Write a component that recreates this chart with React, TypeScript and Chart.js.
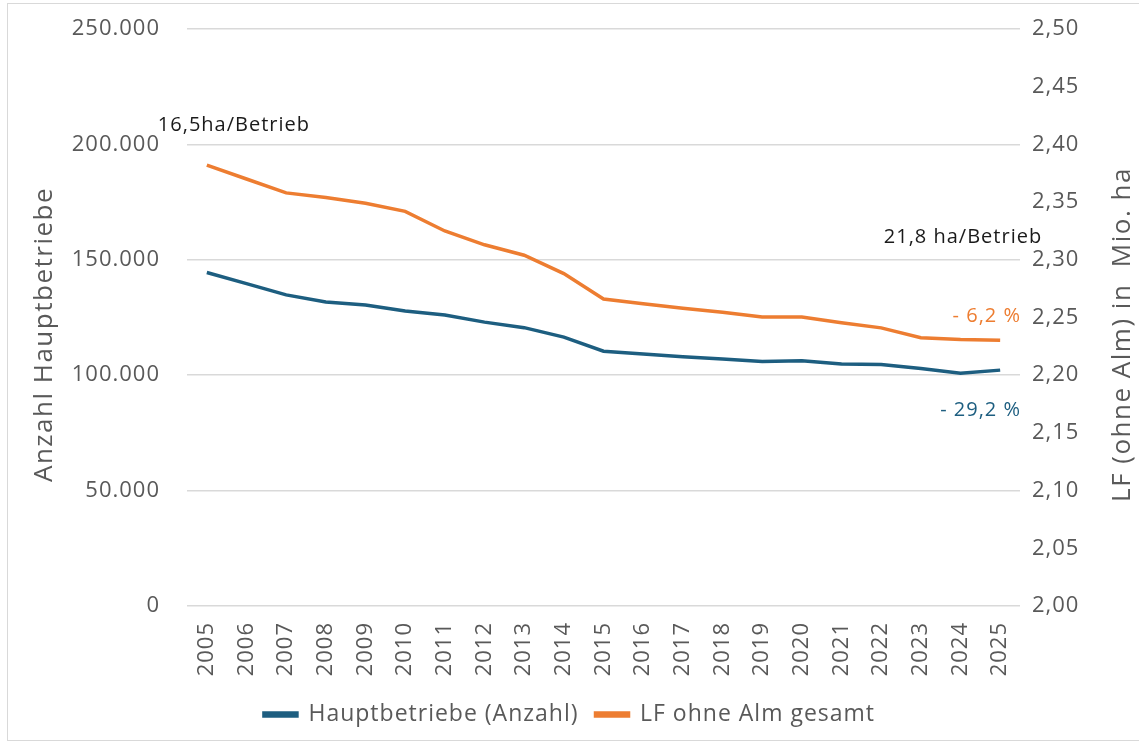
import React, { useEffect, useRef } from "react";
import { Chart, registerables } from "chart.js";

Chart.register(...registerables);

const years = [
  "2005", "2006", "2007", "2008", "2009", "2010", "2011", "2012", "2013", "2014",
  "2015", "2016", "2017", "2018", "2019", "2020", "2021", "2022", "2023", "2024", "2025",
];

const hauptbetriebe = [
  144500, 139700, 134800, 131700, 130400, 127800, 126100, 123000, 120600, 116500,
  110400, 109200, 108000, 107000, 105900, 106300, 104900, 104600, 102900, 100900, 102200,
];

const lfOhneAlm = [
  2.382, 2.37, 2.358, 2.354, 2.349, 2.342, 2.325, 2.313, 2.304, 2.288,
  2.266, 2.262, 2.258, 2.2545, 2.2505, 2.2505, 2.2455, 2.241, 2.2325, 2.231, 2.2303,
];

const seriesNames = ["Hauptbetriebe (Anzahl)", "LF ohne Alm gesamt"];
const leftTitle = "Anzahl Hauptbetriebe";
const rightTitle = "LF (ohne Alm) in  Mio. ha";
const noteStart = "16,5ha/Betrieb";
const noteEnd = "21,8 ha/Betrieb";
const noteLf = "- 6,2 %";
const noteHb = "- 29,2 %";

const BLUE = "#1d5e80";
const ORANGE = "#ed7d31";
const GREY = "#595959";
const GRID = "#d9d9d9";
const FONT = "'Open Sans', sans-serif";

const spacingPlugin = {
  id: "letterSpacing",
  beforeInit(chart: any) {
    chart.ctx.letterSpacing = "1px";
  },
  beforeUpdate(chart: any) {
    chart.ctx.letterSpacing = "1px";
  },
  beforeDraw(chart: any) {
    chart.ctx.letterSpacing = "1px";
  },
};

const textPlugin = {
  id: "chartTexts",
  afterDraw(chart: any) {
    const ctx = chart.ctx;
    const a = chart.chartArea;
    const xs = chart.scales.x;
    const ys = chart.scales.y;
    const y1 = chart.scales.y1;
    const last = years.length - 1;
    ctx.save();
    ctx.textBaseline = "middle";
    ctx.font = `26px ${FONT}`;
    ctx.letterSpacing = "1.5px";
    // axis titles
    ctx.fillStyle = GREY;
    const midY = (a.top + a.bottom) / 2 + 17;
    ctx.save();
    ctx.translate(45, midY);
    ctx.rotate(-Math.PI / 2);
    ctx.textAlign = "center";
    ctx.fillText(leftTitle, 0, 0);
    ctx.restore();
    ctx.save();
    ctx.translate(1123, midY);
    ctx.rotate(-Math.PI / 2);
    ctx.textAlign = "center";
    ctx.fillText(rightTitle, 0, 0);
    ctx.restore();
    // notes
    ctx.font = `20px ${FONT}`;
    ctx.letterSpacing = "1px";
    ctx.fillStyle = "#1a1a1a";
    ctx.textAlign = "left";
    ctx.fillText(noteStart, xs.getPixelForValue(0) - 49, y1.getPixelForValue(lfOhneAlm[0]) - 40);
    ctx.textAlign = "right";
    ctx.fillText(noteEnd, xs.getPixelForValue(last) + 42, 237);
    ctx.fillStyle = ORANGE;
    ctx.fillText(noteLf, a.right + 1, y1.getPixelForValue(lfOhneAlm[last]) - 24);
    ctx.fillStyle = BLUE;
    ctx.fillText(noteHb, a.right + 1, ys.getPixelForValue(hauptbetriebe[last]) + 40);
    ctx.restore();
  },
};

export default function App() {
  const ref = useRef<HTMLCanvasElement | null>(null);

  useEffect(() => {
    document.body.style.margin = "0";
    if (!ref.current) return;
    const chart = new Chart(ref.current, {
      type: "line",
      data: {
        labels: years,
        datasets: [
          {
            label: seriesNames[0],
            data: hauptbetriebe,
            borderColor: BLUE,
            backgroundColor: BLUE,
            borderWidth: 3.5,
            pointRadius: 0,
            tension: 0,
            yAxisID: "y",
          },
          {
            label: seriesNames[1],
            data: lfOhneAlm,
            borderColor: ORANGE,
            backgroundColor: ORANGE,
            borderWidth: 3.5,
            pointRadius: 0,
            tension: 0,
            yAxisID: "y1",
          },
        ],
      },
      options: {
        responsive: false,
        animation: false,
        layout: { padding: { top: 29, left: 0, right: 0, bottom: 8 } },
        plugins: {
          legend: {
            position: "bottom",
            labels: {
              color: GREY,
              font: { family: FONT, size: 23 },
              boxWidth: 33,
              boxHeight: 3,
              padding: 17,
            },
          },
          tooltip: { enabled: false },
        },
        scales: {
          x: {
            offset: true,
            grid: { display: false },
            border: { display: false },
            ticks: {
              color: GREY,
              font: { family: FONT, size: 22 },
              minRotation: 90,
              maxRotation: 90,
              padding: 8,
              autoSkip: false,
            },
            afterFit: (s: any) => {
              s.height = 80;
            },
          },
          y: {
            position: "left",
            min: 0,
            max: 250000,
            grid: { color: GRID, lineWidth: 1.5, drawTicks: false },
            border: { display: false },
            ticks: {
              stepSize: 50000,
              color: GREY,
              padding: 27,
              font: { family: FONT, size: 22 },
              callback: (v: any) => Number(v).toLocaleString("de-DE"),
            },
            afterFit: (s: any) => {
              s.width = 187;
              s.paddingTop = 13;
              s.paddingBottom = 13;
            },
          },
          y1: {
            position: "right",
            min: 2.0,
            max: 2.5,
            grid: { display: false, drawTicks: false },
            border: { display: false },
            ticks: {
              stepSize: 0.05,
              color: GREY,
              padding: 12,
              font: { family: FONT, size: 22 },
              callback: (v: any) => Number(v).toFixed(2).replace(".", ","),
            },
            afterFit: (s: any) => {
              s.width = 119;
              s.paddingTop = 13;
              s.paddingBottom = 13;
            },
          },
        },
      },
      plugins: [spacingPlugin, textPlugin],
    });
    return () => chart.destroy();
  }, []);

  return (
    <div style={{ position: "relative", width: 1139, height: 744, background: "#fff" }}>
      <div
        style={{
          position: "absolute",
          left: 7,
          top: 3,
          width: 1140,
          height: 738,
          border: "1px solid #d9d9d9",
          boxSizing: "border-box",
        }}
      />
      <canvas ref={ref} width={1139} height={744} style={{ position: "absolute", left: 0, top: 0 }} />
    </div>
  );
}
